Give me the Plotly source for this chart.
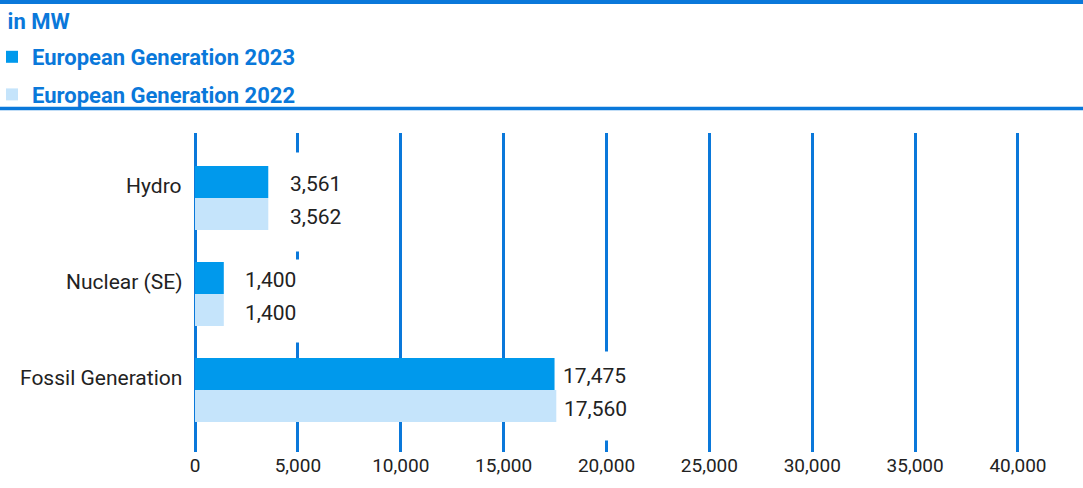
import plotly.graph_objects as go

categories = ["Hydro", "Nuclear (SE)", "Fossil Generation"]
gen_2023 = [3561, 1400, 17475]
gen_2022 = [3562, 1400, 17560]
series_names = ["European Generation 2023", "European Generation 2022"]
x_ticks = [0, 5000, 10000, 15000, 20000, 25000, 30000, 35000, 40000]

BLUE = "#0A78DA"
C23 = "#0099EC"
C22 = "#C5E4FB"
TXT = "#222222"
FONT = "Roboto"

fig = go.Figure()
fig.add_trace(go.Bar(y=categories, x=gen_2023, orientation="h", name=series_names[0],
                     marker=dict(color=C23, line=dict(width=0)), legendgroup="a"))
fig.add_trace(go.Bar(y=categories, x=gen_2022, orientation="h", name=series_names[1],
                     marker=dict(color=C22, line=dict(width=0)), legendgroup="b"))

label_xshift = [21, 20, 7]
box_xshift = [13, 12, 2]
box_heights = [98, 82, 88]
box_yshift = [-4, -7, -6]
annotations = []
for i, cat in enumerate(categories):
    vmax = max(gen_2023[i], gen_2022[i])
    # white background box behind the pair of value labels (hides gridlines)
    annotations.append(dict(x=vmax, y=cat, xref="x", yref="y", text=" ", showarrow=False,
                            xanchor="left", yanchor="middle", xshift=box_xshift[i],
                            yshift=box_yshift[i], width=78, height=box_heights[i],
                            bgcolor="white", borderpad=0))
    for vals, ys in ((gen_2023, 14), (gen_2022, -19)):
        annotations.append(dict(x=vals[i], y=cat, xref="x", yref="y", text=f"{vals[i]:,}",
                                showarrow=False, xanchor="left", yanchor="middle",
                                xshift=label_xshift[i], yshift=ys, borderpad=0,
                                font=dict(family=FONT, size=21, color=TXT)))
    annotations.append(dict(x=0, y=cat, xref="paper", yref="y", text=cat, showarrow=False,
                            xanchor="right", yanchor="middle", xshift=-11, yshift=12,
                            font=dict(family=FONT, size=21, color=TXT)))

L, T, B = 195, 133, 36
W, H = 1083, 488
pw, ph = W - L, H - T - B

def px_x(x):
    return (x - L) / pw

def px_y(y):
    return (H - B - y) / ph

shapes = [
    dict(type="line", xref="paper", yref="paper", x0=px_x(0), x1=px_x(W), y0=px_y(2), y1=px_y(2),
         line=dict(color=BLUE, width=4)),
    dict(type="line", xref="paper", yref="paper", x0=px_x(0), x1=px_x(W), y0=px_y(108.5), y1=px_y(108.5),
         line=dict(color=BLUE, width=3.5)),
]

fig.update_layout(
    width=W, height=H,
    margin=dict(l=L, r=0, t=T, b=B, pad=0, autoexpand=False),
    paper_bgcolor="white", plot_bgcolor="white",
    barmode="group", bargap=0.333, bargroupgap=0,
    font=dict(family=FONT, size=18, color=TXT),
    title=dict(text="<b>in MW</b>", xref="container", yref="container", x=0.007, y=1 - 21 / H,
               xanchor="left", yanchor="middle", font=dict(family=FONT, size=22, color=BLUE)),
    legend=dict(xref="paper", yref="paper", x=px_x(-8), y=px_y(36), xanchor="left", yanchor="top",
                orientation="v", tracegroupgap=6, itemwidth=30,
                font=dict(family=FONT, size=22, color=BLUE, weight="bold"),
                bgcolor="rgba(0,0,0,0)"),
    xaxis=dict(range=[0, 43160], tickvals=x_ticks, ticktext=[f"{v:,}" for v in x_ticks],
               showgrid=True, gridcolor=BLUE, gridwidth=3, zeroline=True, zerolinecolor=BLUE,
               zerolinewidth=3, showline=False, ticks="", tickfont=dict(family=FONT, size=19, color=TXT)),
    yaxis=dict(range=[2.646, -0.677], showticklabels=False, showgrid=False, zeroline=False, ticks=""),
    annotations=annotations, shapes=shapes,
)

fig.write_html("out.html", config={"displayModeBar": False},
               post_script="document.body.style.margin='0px';")
